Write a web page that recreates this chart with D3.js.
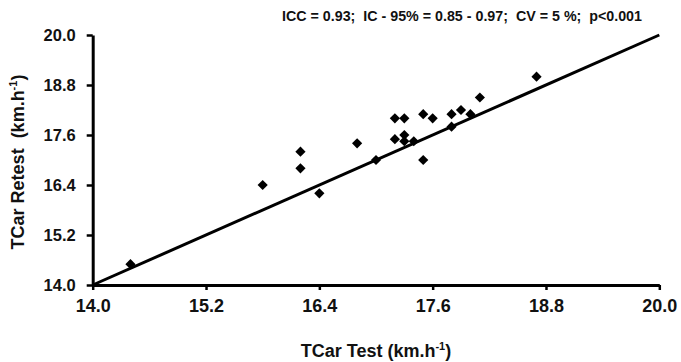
<!DOCTYPE html>
<html>
<head>
<meta charset="utf-8">
<script src="https://cdn.jsdelivr.net/npm/d3@7"></script>
<style>
  html, body { margin: 0; padding: 0; background: #fff; }
  svg { display: block; font-family: "Liberation Sans", Arial, sans-serif; font-weight: bold; }
</style>
</head>
<body>
<svg id="chart" width="681" height="362"></svg>
<script>
// TCar test vs retest (km.h-1)
const testValues   = [14.4, 15.8, 16.2, 16.2, 16.4, 16.8, 17.0, 17.2, 17.3, 17.2, 17.3, 17.3, 17.4, 17.5, 17.6, 17.5, 17.8, 17.8, 17.9, 18.0, 18.1, 18.7];
const retestValues = [14.5, 16.4, 17.2, 16.8, 16.2, 17.4, 17.0, 18.0, 18.0, 17.5, 17.6, 17.45, 17.45, 18.1, 18.0, 17.0, 18.1, 17.8, 18.2, 18.1, 18.5, 19.0];
// line of identity
const identityX = [14.0, 20.0];
const identityY = [14.0, 20.0];
const tickValues = [14.0, 15.2, 16.4, 17.6, 18.8, 20.0];
const statsLabel = "ICC = 0.93;  IC - 95% = 0.85 - 0.97;  CV = 5 %;  p<0.001";

const svg = d3.select("#chart");
const plotLeft = 92.7, plotRight = 659.3, plotTop = 35, plotBottom = 285;

const x = d3.scaleLinear().domain([14, 20]).range([plotLeft, plotRight]);
const y = d3.scaleLinear().domain([14, 20]).range([plotBottom, plotTop]);

// axes
const xAxis = d3.axisBottom(x).tickValues(tickValues).tickSize(5).tickSizeOuter(0).tickFormat(d3.format(".1f"));
const yAxis = d3.axisLeft(y).tickValues(tickValues).tickSize(6).tickSizeOuter(0).tickFormat(d3.format(".1f"));

const gx = svg.append("g").attr("transform", `translate(0,${plotBottom})`).call(xAxis);
const gy = svg.append("g").attr("transform", `translate(${plotLeft},0)`).call(yAxis);

[gx, gy].forEach(g => {
  g.select(".domain").attr("stroke", "#000").attr("stroke-width", 3);
  g.selectAll(".tick line").attr("stroke", "#000").attr("stroke-width", 2.5);
  g.selectAll(".tick text").attr("fill", "#111").attr("font-family", "Liberation Sans, Arial, sans-serif").attr("font-weight", "bold");
});
gx.selectAll(".tick text").attr("font-size", 18).attr("dy", "1.05em");
gy.selectAll(".tick text").attr("font-size", 16.5).attr("x", -17).attr("dy", "0.36em");

// identity line
const line = d3.line().x(d => x(d)).y((d, i) => y(identityY[i]));
svg.append("path")
  .datum(identityX)
  .attr("d", line)
  .attr("fill", "none")
  .attr("stroke", "#000")
  .attr("stroke-width", 3);

// points
const diamond = d3.symbol().type(d3.symbolSquare).size(52);
svg.append("g").selectAll("path")
  .data(testValues.map((t, i) => [t, retestValues[i]]))
  .join("path")
  .attr("d", diamond)
  .attr("transform", d => `translate(${x(d[0])},${y(d[1])}) rotate(45)`)
  .attr("fill", "#000");

// axis titles
const xTitle = svg.append("text")
  .attr("x", (plotLeft + plotRight) / 2)
  .attr("y", 357)
  .attr("text-anchor", "middle")
  .attr("font-size", 18)
  .attr("fill", "#111");
xTitle.append("tspan").text("TCar Test (km.h");
xTitle.append("tspan").attr("font-size", 11).attr("dy", -7).text("-1");
xTitle.append("tspan").attr("dy", 7).text(")");

const yTitle = svg.append("text")
  .attr("transform", `translate(24,${(plotTop + plotBottom) / 2 + 2}) rotate(-90)`)
  .attr("text-anchor", "middle")
  .attr("font-size", 18)
  .attr("fill", "#111")
  .attr("xml:space", "preserve");
yTitle.append("tspan").text("TCar Retest  (km.h");
yTitle.append("tspan").attr("font-size", 11).attr("dy", -7).text("-1");
yTitle.append("tspan").attr("dy", 7).text(")");

// statistics
svg.append("text")
  .attr("x", 282)
  .attr("y", 21)
  .attr("font-size", 14.5)
  .attr("fill", "#111")
  .attr("xml:space", "preserve")
  .attr("textLength", 360)
  .attr("lengthAdjust", "spacingAndGlyphs")
  .text(statsLabel);
</script>
</body>
</html>
